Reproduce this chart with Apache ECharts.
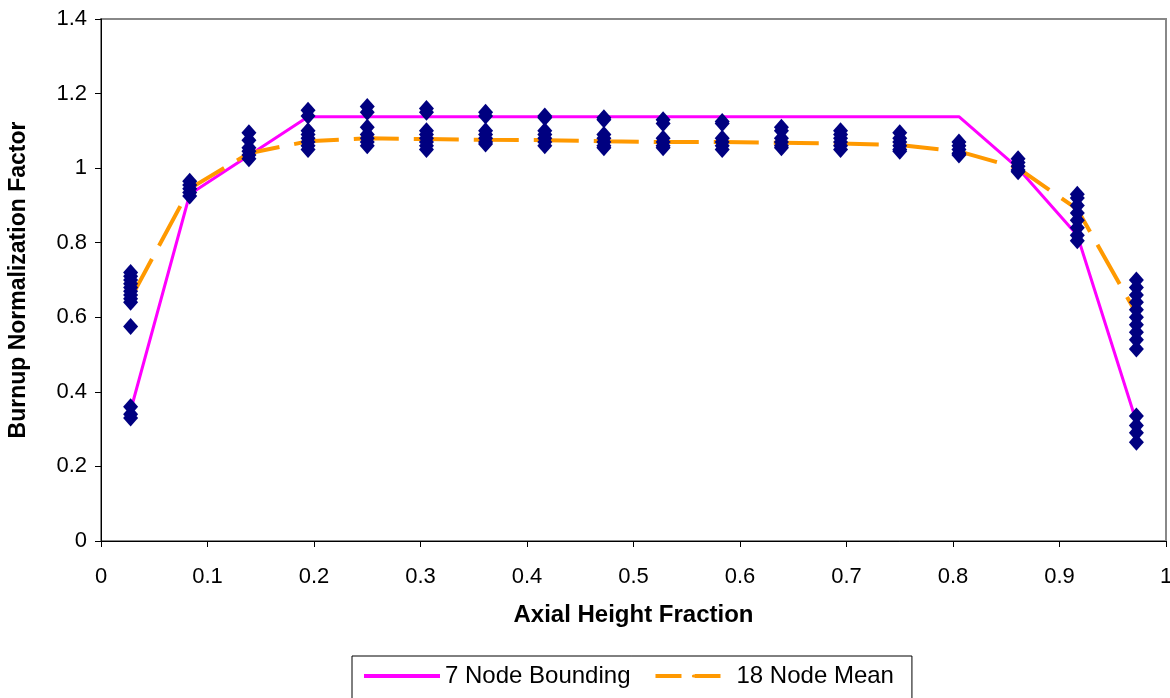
<!DOCTYPE html>
<html>
<head>
<meta charset="utf-8">
<script src="https://cdn.jsdelivr.net/npm/echarts@6/dist/echarts.min.js"></script>
<style>html,body{margin:0;padding:0;background:#fff;}#chart{width:1170px;height:698px;}</style>
</head>
<body>
<div id="chart"></div>
<script>
// Axial node positions (fraction of height)
const nodeX = [0.0278, 0.0833, 0.1389, 0.1944, 0.25, 0.3056, 0.3611, 0.4167, 0.4722, 0.5278, 0.5833, 0.6389, 0.6944, 0.75, 0.8056, 0.8611, 0.9167, 0.9722];

// Measured burnup normalization factors at each node
const measured = [
  [0.72, 0.71, 0.70, 0.69, 0.68, 0.67, 0.66, 0.65, 0.64, 0.575, 0.36, 0.34, 0.33],
  [0.965, 0.955, 0.945, 0.935, 0.925],
  [1.095, 1.075, 1.055, 1.045, 1.035, 1.025],
  [1.155, 1.14, 1.10, 1.09, 1.08, 1.07, 1.06, 1.05],
  [1.165, 1.15, 1.11, 1.09, 1.08, 1.07, 1.06],
  [1.16, 1.15, 1.10, 1.09, 1.08, 1.07, 1.06, 1.05],
  [1.15, 1.14, 1.10, 1.09, 1.08, 1.07, 1.065],
  [1.14, 1.135, 1.10, 1.09, 1.08, 1.07, 1.06],
  [1.135, 1.13, 1.09, 1.08, 1.07, 1.06, 1.055],
  [1.13, 1.12, 1.08, 1.07, 1.06, 1.055],
  [1.125, 1.12, 1.08, 1.07, 1.06, 1.05],
  [1.11, 1.10, 1.08, 1.07, 1.06, 1.055],
  [1.10, 1.09, 1.08, 1.07, 1.06, 1.05],
  [1.095, 1.08, 1.07, 1.06, 1.05, 1.045],
  [1.07, 1.06, 1.05, 1.04, 1.035],
  [1.025, 1.015, 1.005, 0.995, 0.99],
  [0.93, 0.92, 0.90, 0.88, 0.86, 0.84, 0.82, 0.805],
  [0.70, 0.68, 0.66, 0.64, 0.62, 0.60, 0.58, 0.56, 0.54, 0.515, 0.335, 0.31, 0.29, 0.265]
];

// 7 Node Bounding curve
const boundX = [0.0278, 0.0833, 0.1944, 0.8056, 0.8611, 0.9167, 0.9722];
const boundY = [0.35, 0.93, 1.138, 1.138, 1.0, 0.82, 0.32];

// 18 Node Mean curve
const meanY = [0.65, 0.945, 1.04, 1.072, 1.08, 1.078, 1.076, 1.075, 1.072, 1.07, 1.07, 1.068, 1.066, 1.062, 1.045, 1.0, 0.89, 0.61];

const scatterData = [];
measured.forEach((vals, i) => vals.forEach(v => scatterData.push([nodeX[i], v])));
const boundData = boundX.map((x, i) => [x, boundY[i]]);
const meanData = nodeX.map((x, i) => [x, meanY[i]]);

const font = 'Liberation Sans, Arial, sans-serif';
const chart = echarts.init(document.getElementById('chart'), null, {renderer: 'canvas'});
chart.setOption({
  animation: false,
  backgroundColor: '#fff',
  grid: {left: 101, right: 4, top: 19, bottom: 157, show: true, borderColor: '#888', borderWidth: 2,
         backgroundColor: 'transparent', containLabel: false, outerBoundsMode: 'none'},
  xAxis: {
    type: 'value', min: 0, max: 1, interval: 0.1,
    name: 'Axial Height Fraction', nameLocation: 'middle', nameGap: 62,
    nameTextStyle: {fontFamily: font, fontSize: 24, fontWeight: 'bold', color: '#000'},
    axisLine: {show: true, lineStyle: {color: '#000', width: 1}},
    axisTick: {show: true, inside: false, length: 6, lineStyle: {color: '#000'}},
    axisLabel: {fontFamily: font, fontSize: 22, color: '#000', margin: 25},
    splitLine: {show: false}
  },
  yAxis: {
    type: 'value', min: 0, max: 1.4, interval: 0.2,
    name: 'Burnup Normalization Factor', nameLocation: 'middle', nameGap: 71, nameRotate: 90,
    nameTextStyle: {fontFamily: font, fontSize: 23, fontWeight: 'bold', color: '#000'},
    axisLine: {show: true, lineStyle: {color: '#000', width: 1}},
    axisTick: {show: true, inside: false, length: 6, lineStyle: {color: '#000'}},
    axisLabel: {fontFamily: font, fontSize: 22, color: '#000', margin: 14},
    splitLine: {show: false}
  },
  legend: {
    data: [
      {name: '7 Node Bounding', lineStyle: {width: 4}},
      {name: '18 Node Mean', lineStyle: {type: [26, 13], width: 4}}
    ],
    left: 352, top: 656,
    orient: 'horizontal',
    borderColor: '#000', borderWidth: 1,
    padding: [8, 18, 20, 10],
    itemGap: 23, itemWidth: 76, itemHeight: 4,
    textStyle: {fontFamily: font, fontSize: 24, color: '#000'}
  },
  series: [
    {
      name: 'measured', type: 'scatter', data: scatterData,
      symbol: 'diamond', symbolSize: [15, 17],
      itemStyle: {color: '#000080', opacity: 1}, z: 3
    },
    {
      name: '7 Node Bounding', type: 'line', data: boundData,
      symbol: 'none', lineStyle: {color: '#FF00FF', width: 3}, itemStyle: {color: '#FF00FF'}, z: 2
    },
    {
      name: '18 Node Mean', type: 'line', data: meanData,
      symbol: 'none', lineStyle: {color: '#FF9900', width: 4, type: [45, 15]}, itemStyle: {color: '#FF9900'}, z: 2
    }
  ]
});
</script>
</body>
</html>
